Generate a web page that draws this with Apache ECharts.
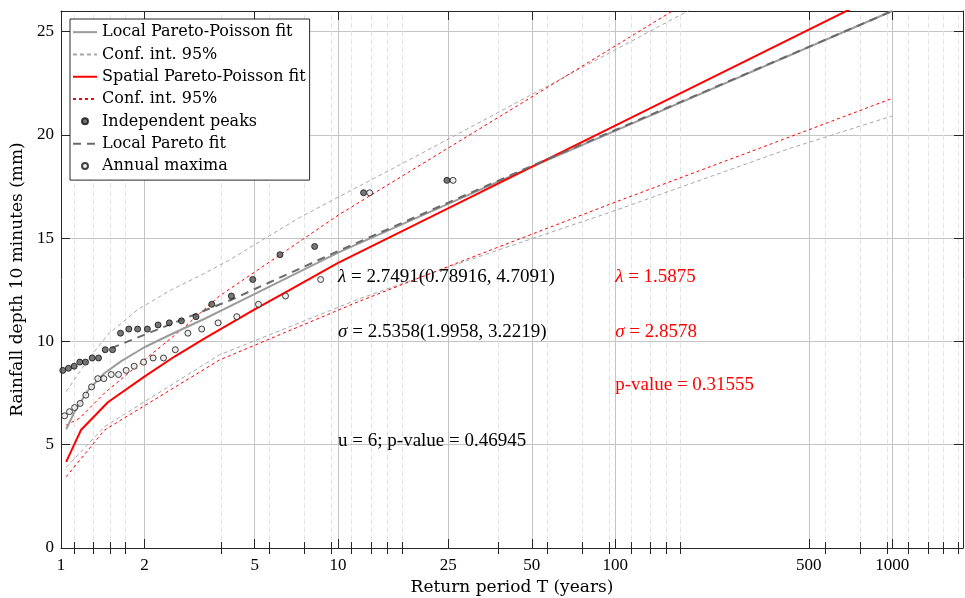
<!DOCTYPE html>
<html><head><meta charset="utf-8">
<script src="https://cdn.jsdelivr.net/npm/echarts@6/dist/echarts.min.js"></script>
<style>html,body{margin:0;padding:0;background:#fff}#c{width:965px;height:598px}</style>
</head><body><div id="c"></div><script>
// ---- tick labels ----
const xTickLabels = [1, 2, 5, 10, 25, 50, 100, 500, 1000];
const xMinorTicks = [1.12, 1.31, 1.5, 1.7, 3.78, 5.63, 7.54, 9.44, 11.2, 13.2, 15.1, 17.0, 38, 56.8, 76, 95, 114, 134, 153, 172, 573, 766, 959, 1140, 1349, 1528, 1729];
const yTickLabels = [0, 5, 10, 15, 20, 25];

// ---- Local Pareto-Poisson fit ----
const localFitT = [1.044, 1.12, 1.25, 1.43, 1.65, 2, 2.5, 3.3, 4.2, 10, 50, 1000];
const localFitY = [5.75, 6.6, 7.62, 8.45, 9.05, 9.72, 10.35, 11.1, 11.8, 14.3, 18.45, 26.0];
const localCiUpT = [1.044, 1.25, 1.475, 1.89, 2.5, 3.3, 4, 7.26, 21.3, 183, 1000];
const localCiUpY = [7.57, 9.11, 10.33, 11.54, 12.5, 13.3, 13.9, 16.0, 19.3, 26.0, 31.4];
const localCiLoT = [1.044, 1.435, 3.73, 11.9, 29, 98, 425, 1000];
const localCiLoY = [3.9, 5.87, 9.35, 12.06, 13.9, 16.3, 19.34, 20.92];

// ---- Spatial Pareto-Poisson fit ----
const spatialFitT = [1.044, 1.18, 1.48, 2, 2.57, 3.3, 5, 6.7, 10, 50, 100, 1000];
const spatialFitY = [4.17, 5.71, 7.07, 8.3, 9.27, 10.15, 11.55, 12.5, 13.8, 18.45, 20.45, 27.1];
const spatialCiUpT = [1.044, 1.166, 1.435, 2, 2.72, 3.73, 4.23, 7.45, 10.1, 24.5, 161, 1000];
const spatialCiUpY = [5.95, 6.28, 7.5, 9.11, 10.57, 12.2, 12.7, 14.94, 16.15, 19.3, 26.0, 32.5];
const spatialCiLoT = [1.044, 1.435, 3.73, 11.9, 29, 98, 330, 1000];
const spatialCiLoY = [3.45, 5.71, 9.1, 11.94, 13.97, 16.7, 19.34, 21.77];

// ---- Local Pareto fit ----
const paretoFitT = [1.52, 4.12, 10.1, 50, 1000];
const paretoFitY = [9.68, 12.02, 14.4, 18.5, 26.0];

// ---- observations ----
const peaksT = [24.7, 12.36, 8.23, 6.17, 4.92, 4.12, 3.5, 3.07, 2.72, 2.46, 2.24, 2.05, 1.89, 1.757, 1.64, 1.535, 1.444, 1.366, 1.296, 1.226, 1.169, 1.116, 1.064, 1.015];
const peaksY = [17.8, 17.2, 14.6, 14.2, 13.0, 12.2, 11.8, 11.2, 11.0, 10.9, 10.8, 10.6, 10.6, 10.6, 10.4, 9.6, 9.6, 9.2, 9.2, 9.0, 9.0, 8.8, 8.7, 8.6];
const annualT = [26, 13, 8.65, 6.46, 5.16, 4.31, 3.69, 3.22, 2.87, 2.585, 2.344, 2.15, 1.986, 1.837, 1.719, 1.613, 1.518, 1.427, 1.358, 1.289, 1.229, 1.173, 1.12, 1.073, 1.03];
const annualY = [17.8, 17.2, 13.0, 12.2, 11.8, 11.2, 10.9, 10.6, 10.4, 9.6, 9.2, 9.2, 9.0, 8.8, 8.6, 8.4, 8.4, 8.2, 8.2, 7.8, 7.4, 7.0, 6.8, 6.6, 6.4];

// ---- annotations: [T, value, greek, rest, colour] ----
const notes = [
  [10, 13.12, 'λ', ' = 2.7491(0.78916, 4.7091)', '#000000'],
  [10, 10.46, 'σ', ' = 2.5358(1.9958, 3.2219)', '#000000'],
  [10, 5.2, '', 'u = 6; p-value = 0.46945', '#000000'],
  [100, 13.12, 'λ', ' = 1.5875', '#ff0000'],
  [100, 10.46, 'σ', ' = 2.8578', '#ff0000'],
  [100, 7.87, '', 'p-value = 0.31555', '#ff0000']
];

const legendText = {
  localFit: 'Local Pareto-Poisson fit', localCi: 'Conf. int. 95%',
  spatialFit: 'Spatial Pareto-Poisson fit', spatialCi: 'Conf. int. 95%',
  peaks: 'Independent peaks', paretoFit: 'Local Pareto fit', annual: 'Annual maxima'
};
const lineNames = ['localFit', 'localCi', 'spatialFit', 'spatialCi', 'paretoFit'];

const zip = (a, b) => a.map((v, i) => [v, b[i]]);
const SERIF_W = '"DejaVu Serif", serif';
const SERIF_D = '"Liberation Serif", serif';
const AX = '#262626';
const X_MIN = 1, X_MAX = 1800;

const chart = echarts.init(document.getElementById('c'), null, {renderer: 'canvas'});

function logX(extra) {
  return Object.assign({
    type: 'log', logBase: 10, min: X_MIN, max: X_MAX, gridIndex: 0,
    axisLine: {show: false}, axisLabel: {show: false}, splitLine: {show: false},
    axisTick: {show: false}, minorTick: {show: false}
  }, extra);
}

function lineSeries(name, data, color, width, type, z) {
  return {
    name, type: 'line', data, symbol: 'none', showSymbol: false, smooth: false,
    xAxisIndex: 0, yAxisIndex: 0, z: z || 3, clip: true, animation: false,
    lineStyle: {color, width, type}, itemStyle: {color}, emphasis: {disabled: true}
  };
}

const option = {
  animation: false,
  backgroundColor: '#ffffff',
  grid: {left: 61, right: 2, top: 11, bottom: 50, containLabel: false, outerBoundsMode: 'none'},
  xAxis: [
    logX({
      position: 'bottom',
      axisLine: {show: true, onZero: false, lineStyle: {color: AX, width: 1}},
      axisTick: {show: true, inside: true, length: 9, customValues: xTickLabels, lineStyle: {color: AX}},
      axisLabel: {show: true, customValues: xTickLabels, margin: 9, color: '#000', fontFamily: SERIF_D, fontSize: 17,
        formatter: v => String(Math.round(v))},
      name: 'Return period T (years)', nameLocation: 'middle', nameGap: 29,
      nameTextStyle: {fontFamily: SERIF_W, fontSize: 17, color: '#000'}
    }),
    logX({position: 'bottom', axisTick: {show: true, inside: true, length: 6, customValues: xMinorTicks, lineStyle: {color: AX}}}),
    logX({position: 'top', axisLine: {show: true, onZero: false, lineStyle: {color: AX, width: 1}},
      axisTick: {show: true, inside: true, length: 9, customValues: xTickLabels, lineStyle: {color: AX}}}),
    logX({position: 'top', axisTick: {show: true, inside: true, length: 6, customValues: xMinorTicks, lineStyle: {color: AX}}})
  ],
  yAxis: [
    {
      type: 'value', min: 0, max: 26, interval: 5, position: 'left', gridIndex: 0,
      axisLine: {show: true, onZero: false, lineStyle: {color: AX, width: 1}},
      axisTick: {show: true, inside: true, length: 9, customValues: yTickLabels, lineStyle: {color: AX}},
      axisLabel: {show: true, customValues: yTickLabels, margin: 7, color: '#000', fontFamily: SERIF_D, fontSize: 17},
      splitLine: {show: true, lineStyle: {color: '#c4c4c4', width: 1}},
      name: 'Rainfall depth 10 minutes (mm)', nameLocation: 'middle', nameGap: 26, nameRotate: 90,
      nameTextStyle: {fontFamily: SERIF_W, fontSize: 17, color: '#000'}
    },
    {
      type: 'value', min: 0, max: 26, interval: 5, position: 'right', gridIndex: 0,
      axisLine: {show: true, onZero: false, lineStyle: {color: AX, width: 1}},
      axisTick: {show: true, inside: true, length: 9, customValues: yTickLabels, lineStyle: {color: AX}},
      axisLabel: {show: false}, splitLine: {show: false}
    }
  ],
  legend: {
    show: true, orient: 'vertical', left: 70, top: 19,
    backgroundColor: '#ffffff', borderColor: AX, borderWidth: 1, borderRadius: 0,
    padding: [3, 4, 4, 2], itemGap: 2, itemWidth: 24, itemHeight: 6,
    textStyle: {fontFamily: SERIF_W, fontSize: 16, color: '#000', lineHeight: 20.3},
    formatter: n => legendText[n] || n,
    selectedMode: false,
    data: ['localFit', 'localCi', 'spatialFit', 'spatialCi', 'peaks', 'paretoFit', 'annual'].map(n =>
      lineNames.includes(n) ? {name: n, itemStyle: {opacity: 0}} : {name: n})
  },
  series: [
    // grid helper (vertical lines drawn at axis values)
    {
      name: 'gridMajor', type: 'line', data: [], xAxisIndex: 0, yAxisIndex: 0, silent: true,
      markLine: {silent: true, symbol: 'none', z: 0, animation: false, label: {show: false},
        lineStyle: {color: '#c4c4c4', width: 1, type: 'solid'},
        data: xTickLabels.filter(v => v > X_MIN).map(v => ({xAxis: v}))}
    },
    {
      name: 'gridMinor', type: 'line', data: [], xAxisIndex: 0, yAxisIndex: 0, silent: true,
      markLine: {silent: true, symbol: 'none', z: 0, animation: false, label: {show: false},
        lineStyle: {color: '#e2e2e2', width: 1, type: [5, 3]},
        data: xMinorTicks.map(v => ({xAxis: v}))}
    },
    lineSeries('localFit', zip(localFitT, localFitY), '#9b9b9b', 2, 'solid', 4),
    lineSeries('localCi', zip(localCiUpT, localCiUpY), '#a8a8a8', 1, [4, 3], 3),
    lineSeries('localCi', zip(localCiLoT, localCiLoY), '#a8a8a8', 1, [4, 3], 3),
    lineSeries('spatialFit', zip(spatialFitT, spatialFitY), '#ff0000', 2, 'solid', 4),
    lineSeries('spatialCi', zip(spatialCiUpT, spatialCiUpY), '#ff0000', 1, [3, 3], 3),
    lineSeries('spatialCi', zip(spatialCiLoT, spatialCiLoY), '#ff0000', 1, [3, 3], 3),
    {
      name: 'peaks', type: 'scatter', data: zip(peaksT, peaksY), xAxisIndex: 0, yAxisIndex: 0,
      symbol: 'circle', symbolSize: 6, z: 6, animation: false,
      itemStyle: {color: '#555555', borderColor: '#111111', borderWidth: 1}, emphasis: {disabled: true}
    },
    lineSeries('paretoFit', zip(paretoFitT, paretoFitY), '#6a6a6a', 2, [8, 6], 5),
    {
      name: 'annual', type: 'scatter', data: zip(annualT, annualY), xAxisIndex: 0, yAxisIndex: 0,
      symbol: 'circle', symbolSize: 6, z: 6, animation: false,
      itemStyle: {color: '#e8e8e8', borderColor: '#111111', borderWidth: 1}, emphasis: {disabled: true}
    }
  ]
};

chart.setOption(option);

// place annotations at data coordinates via the chart's own scales
const gfx = notes.map(([t, v, greek, rest, col]) => {
  const p = chart.convertToPixel({xAxisIndex: 0, yAxisIndex: 0}, [t, v]);
  return {
    type: 'text', x: p[0], y: p[1], z: 10, silent: true,
    style: {
      text: (greek ? '{g|' + greek + '}' : '') + '{r|' + rest + '}',
      fill: col, align: 'left', verticalAlign: 'middle',
      rich: {
        g: {fontFamily: SERIF_D, fontSize: 19, fontStyle: 'italic', fill: col, color: col},
        r: {fontFamily: SERIF_D, fontSize: 19, fill: col, color: col}
      }
    }
  };
});
chart.setOption({graphic: gfx});
</script></body></html>
